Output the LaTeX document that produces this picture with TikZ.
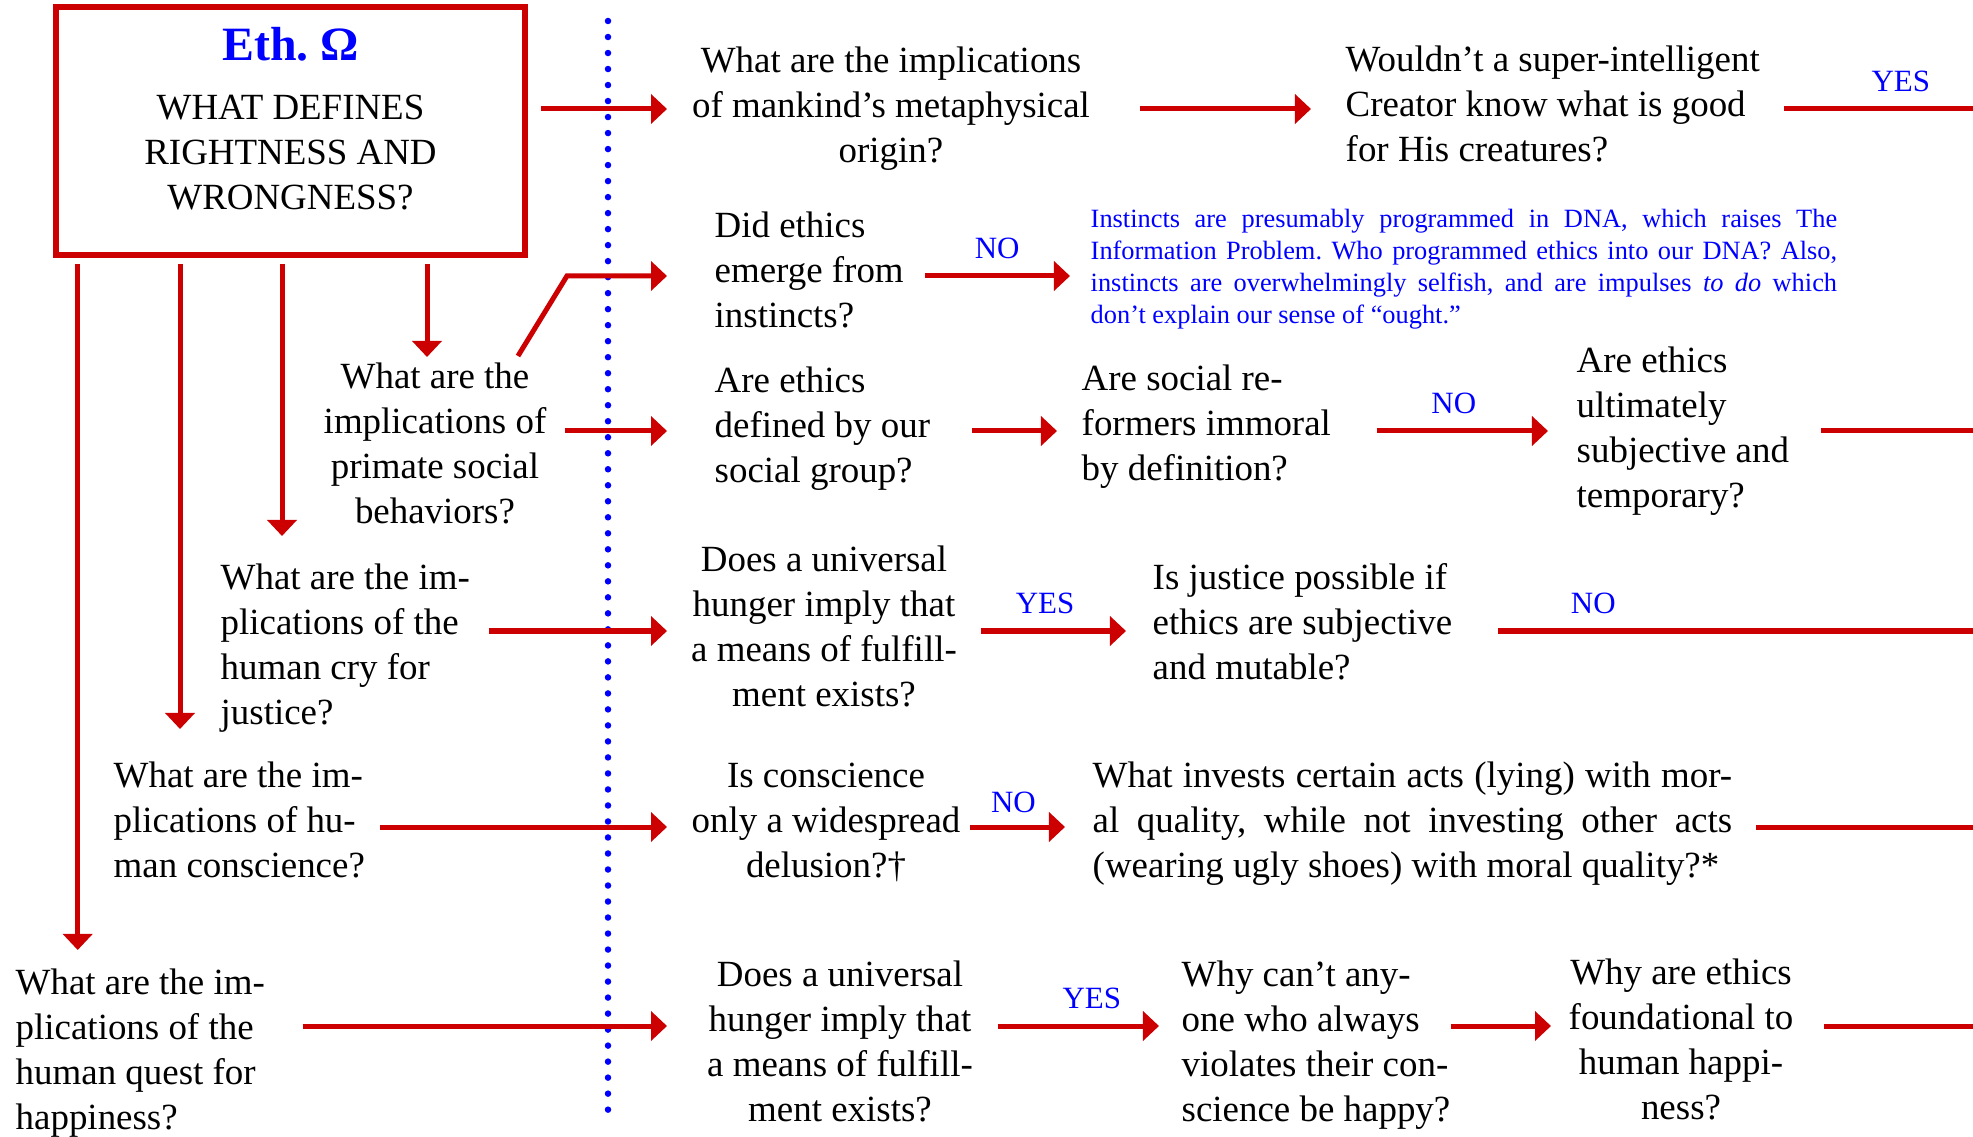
\documentclass[tikz,border=0pt]{standalone}
\usepackage{fontspec}
\setmainfont{Liberation Serif}
\usetikzlibrary{arrows.meta}
\definecolor{ethred}{RGB}{204,0,0}
\definecolor{ethblue}{RGB}{0,0,255}
\newcommand{\qsize}{\fontsize{10.5}{12.8}\selectfont}
\newcommand{\notesize}{\fontsize{7.5}{9.1}\selectfont}
\newcommand{\lblsize}{\fontsize{8.8}{10.5}\selectfont}
\newcommand{\omegasize}{\fontsize{13.6}{16}\selectfont\bfseries}
\newcommand{\jline}[2]{\makebox[#1][s]{#2}}
\frenchspacing
\tikzset{
  ques/.style={font=\qsize, inner sep=0pt},
  quesl/.style={ques, anchor=north west, align=left},
  quesc/.style={ques, anchor=north, align=center},
  arr/.style={ethred, line width=0.05cm, -{Triangle[length=0.16cm,width=0.29cm]}},
  rline/.style={ethred, line width=0.05cm},
  lbl/.style={font=\lblsize, text=ethblue, inner sep=0pt, above=0.15cm},
}
\begin{document}
\begin{tikzpicture}[x=0.01cm, y=-0.01cm]
  \useasboundingbox (0,0) rectangle (1973,1137);
  % title box
  \node[draw=ethred, line width=0.045cm, minimum width=4.71cm, minimum height=2.5cm, inner sep=0pt] (box) at (290.5,131) {};
  \draw[ethred, line width=0.015cm] ([shift={(0.055cm,-0.055cm)}]box.north west) rectangle ([shift={(-0.055cm,0.055cm)}]box.south east);
  \node[font=\omegasize, text=ethblue, anchor=base, inner sep=0pt] (omega) at (290.5,61) {Eth. Ω};
  \node[quesc] (defq) at (290.5,87) {\strut WHAT DEFINES\\RIGHTNESS AND\\WRONGNESS?};
  % divider
  \draw[ethblue, line width=0.065cm, line cap=round, dash pattern=on 0pt off 0.16cm] (608,21) -- (608,1115);
  % rows
  \coordinate (gate) at (667,0);
  \coordinate (edge) at (1973,0);
  \coordinate (r1) at (0,109);
  \coordinate (r2) at (0,276);
  \coordinate (r3) at (0,431);
  \coordinate (r4) at (0,631);
  \coordinate (r5) at (0,827);
  \coordinate (r6) at (0,1026);
  % questions
  \node[quesc] (meta) at (891,40) {\strut What are the implications\\of mankind’s metaphysical\\origin?};
  \node[quesl] (creator) at (1345,39) {\strut Wouldn’t a super-intelligent\\Creator know what is good\\for His creatures?};
  \node[quesl] (instincts) at (714,205) {\strut Did ethics\\emerge from\\instincts?};
  \node[font=\notesize, text=ethblue, inner sep=0pt, anchor=north west, align=left] (dna) at (1090,204.6)
    {\strut\jline{7.46cm}{Instincts are presumably programmed in DNA, which raises The}\\
     \jline{7.46cm}{Information Problem. Who programmed ethics into our DNA? Also,}\\
     \jline{7.46cm}{instincts are overwhelmingly selfish, and are impulses \textit{to do} which}\\
     don’t explain our sense of “ought.”};
  \node[quesc] (primate) at (435,356) {\strut What are the\\implications of\\primate social\\behaviors?};
  \node[quesl] (group) at (714,360) {\strut Are ethics\\defined by our\\social group?};
  \node[quesl] (reform) at (1081,358) {\strut Are social re-\\formers immoral\\by definition?};
  \node[quesl] (subj) at (1576,340) {\strut Are ethics\\ultimately\\subjective and\\temporary?};
  \node[quesl] (justice) at (220,557) {\strut What are the im-\\plications of the\\human cry for\\justice?};
  \node[quesc] (hunger) at (824,539) {\strut Does a universal\\hunger imply that\\a means of fulfill-\\ment exists?};
  \node[quesl] (mutable) at (1152,557) {\strut Is justice possible if\\ethics are subjective\\and mutable?};
  \node[quesl] (conscience) at (113,755) {\strut What are the im-\\plications of hu-\\man conscience?};
  \node[quesc] (delusion) at (826,755) {\strut Is conscience\\only a widespread\\delusion?†};
  \node[quesl] (invests) at (1092,755)
    {\strut\jline{6.39cm}{What invests certain acts (lying) with mor-}\\
     \jline{6.39cm}{al quality, while not investing other acts}\\
     (wearing ugly shoes) with moral quality?*};
  \node[quesl] (quest) at (15,962) {\strut What are the im-\\plications of the\\human quest for\\happiness?};
  \node[quesc] (hunger2) at (840,954) {\strut Does a universal\\hunger imply that\\a means of fulfill-\\ment exists?};
  \node[quesl] (violates) at (1181,954) {\strut Why can’t any-\\one who always\\violates their con-\\science be happy?};
  \node[quesc] (found) at (1681,952) {\strut Why are ethics\\foundational to\\human happi-\\ness?};
  % arrows down from the box
  \coordinate (tip1) at (77.7,950);
  \coordinate (tip2) at (180,729);
  \coordinate (tip3) at (282,536);
  \coordinate (tip4) at (427,357);
  \foreach \t in {tip1,tip2,tip3,tip4}
    \draw[arr, shorten <=0.06cm] (box.south -| \t) -- (\t);
  % row 1
  \draw[arr, shorten <=0.13cm] (box.east |- r1) -- (gate |- r1);
  \draw[arr, shorten <=0.49cm, shorten >=0.34cm] (meta.east |- r1) -- (creator.west |- r1);
  \draw[rline, shorten <=0.24cm] (creator.east |- r1) -- node[lbl, pos=0.66] (yes1) {YES} (edge |- r1);
  % row 2
  \draw[arr] ([xshift=-0.29cm]primate.north east) -- ([xshift=-1cm]gate |- r2) -- (gate |- r2);
  \draw[arr, shorten <=0.21cm, shorten >=0.2cm] (instincts.east |- r2) -- node[lbl] (no1) {NO} (dna.west |- r2);
  % row 3
  \draw[arr, shorten <=0.18cm] (primate.east |- r3) -- (gate |- r3);
  \draw[arr, shorten <=0.41cm, shorten >=0.24cm] (group.east |- r3) -- (reform.west |- r3);
  \draw[arr, shorten <=0.45cm, shorten >=0.28cm] (reform.east |- r3) -- node[lbl] (no2) {NO} (subj.west |- r3);
  \draw[rline, shorten <=0.31cm] (subj.east |- r3) -- (edge |- r3);
  % row 4
  \draw[arr, shorten <=0.18cm] (justice.east |- r4) -- (gate |- r4);
  \draw[arr, shorten <=0.23cm, shorten >=0.26cm] (hunger.east |- r4) -- node[lbl, pos=0.45] (yes2) {YES} (mutable.west |- r4);
  \draw[rline, shorten <=0.45cm] (mutable.east |- r4) -- node[lbl, pos=0.27] (no3) {NO} (edge |- r4);
  % row 5
  \draw[arr, shorten <=0.14cm] (conscience.east |- r5) -- (gate |- r5);
  \draw[arr, shorten <=0.09cm, shorten >=0.27cm] (delusion.east |- r5) -- node[lbl, pos=0.4, yshift=-0.03cm] (no4) {NO} (invests.west |- r5);
  \draw[rline, shorten <=0.23cm] (invests.east |- r5) -- (edge |- r5);
  % row 6
  \draw[arr, shorten <=0.37cm] (quest.east |- r6) -- (gate |- r6);
  \draw[arr, shorten <=0.24cm, shorten >=0.22cm] (hunger2.east |- r6) -- node[lbl, pos=0.57] (yes3) {YES} (violates.west |- r6);
  \draw[arr, shorten >=0.17cm] (violates.east |- r6) -- (found.west |- r6);
  \draw[rline, shorten <=0.3cm] (found.east |- r6) -- (edge |- r6);
\end{tikzpicture}
\end{document}
